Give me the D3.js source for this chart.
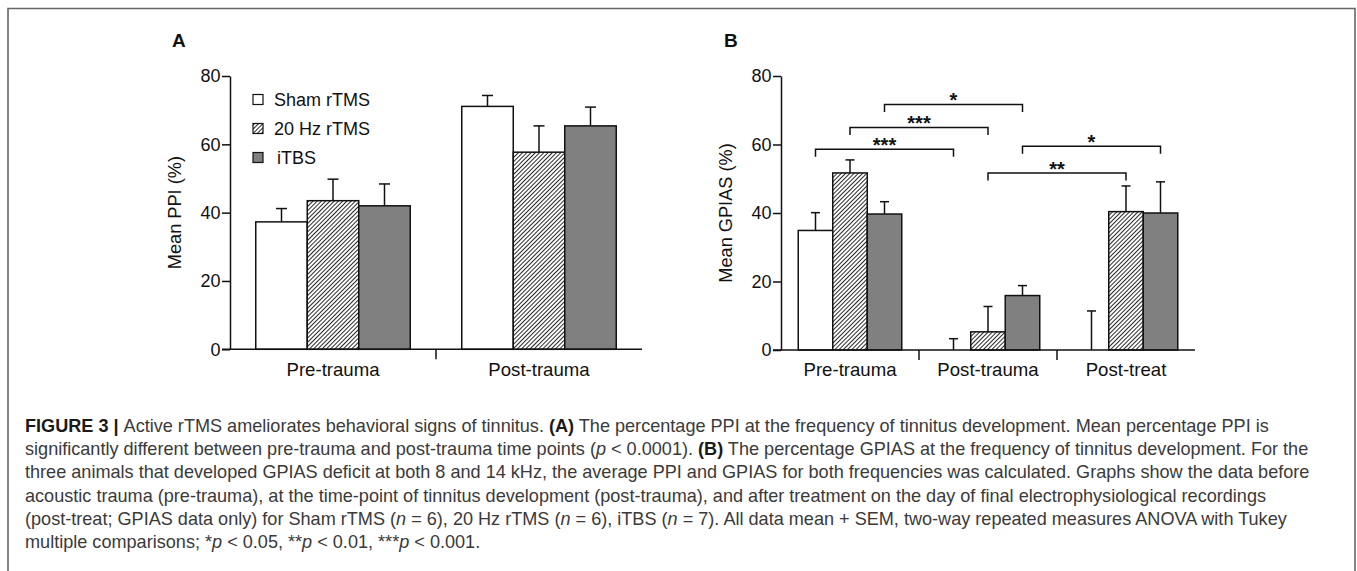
<!DOCTYPE html>
<html>
<head>
<meta charset="utf-8">
<script src="https://cdn.jsdelivr.net/npm/d3@7"></script>
<style>
  body { margin: 0; background: #fff; }
  svg { display: block; font-family: 'Liberation Sans', Arial, sans-serif; }
</style>
</head>
<body>
<script>
// groups and time points
const GROUPS = ['Sham rTMS', '20 Hz rTMS', 'iTBS'];
const PPI_TIMES = ['Pre-trauma', 'Post-trauma'];
const GPIAS_TIMES = ['Pre-trauma', 'Post-trauma', 'Post-treat'];

// mean and SEM (%), one row per time point, one column per group
const PPI_MEAN = [[37.3, 43.5, 42.0], [71.1, 57.7, 65.4]];
const PPI_SEM = [[3.9, 6.3, 6.4], [3.2, 7.7, 5.5]];
const GPIAS_MEAN = [[34.9, 51.7, 39.7], [0, 5.3, 15.9], [0, 40.4, 40.0]];
const GPIAS_SEM = [[5.2, 3.8, 3.6], [3.3, 7.4, 2.9], [11.4, 7.5, 9.1]];

const Y_TICKS = [0, 20, 40, 60, 80];

// Tukey comparisons in B: [time, group] vs [time, group], bracket level (%), stars
const GPIAS_COMPARISONS = [
  [[0, 2], [1, 2], 71.7, '*'],
  [[0, 1], [1, 1], 65.0, '***'],
  [[0, 0], [1, 0], 58.6, '***'],
  [[1, 1], [2, 1], 51.7, '**'],
  [[1, 2], [2, 2], 59.5, '*']
];

const CAPTION = [
  [['FIGURE 3 | ', 'b'], ['Active rTMS ameliorates behavioral signs of tinnitus. '], ['(A)', 'b'], [' The percentage PPI at the frequency of tinnitus development. Mean percentage PPI is']],
  [['significantly different between pre-trauma and post-trauma time points ('], ['p', 'i'], [' < 0.0001). '], ['(B)', 'b'], [' The percentage GPIAS at the frequency of tinnitus development. For the']],
  [['three animals that developed GPIAS deficit at both 8 and 14 kHz, the average PPI and GPIAS for both frequencies was calculated. Graphs show the data before']],
  [['acoustic trauma (pre-trauma), at the time-point of tinnitus development (post-trauma), and after treatment on the day of final electrophysiological recordings']],
  [['(post-treat; GPIAS data only) for Sham rTMS ('], ['n', 'i'], [' = 6), 20 Hz rTMS ('], ['n', 'i'], [' = 6), iTBS ('], ['n', 'i'], [' = 7). All data mean + SEM, two-way repeated measures ANOVA with Tukey']],
  [['multiple comparisons; *'], ['p', 'i'], [' < 0.05, **'], ['p', 'i'], [' < 0.01, ***'], ['p', 'i'], [' < 0.001.']]
];

const WIDTH = 1357, HEIGHT = 571;
const FILLS = ['#ffffff', 'url(#hatch)', '#808080'];

const SVG = d3.select('body').append('svg')
  .attr('width', WIDTH)
  .attr('height', HEIGHT);

const defs = SVG.append('defs');
defs.append('pattern')
    .attr('id', 'hatch')
    .attr('patternUnits', 'userSpaceOnUse')
    .attr('width', 3)
    .attr('height', 3)
    .attr('patternTransform', 'rotate(45)')
  .call(p => p.append('rect').attr('width', 3).attr('height', 3).attr('fill', '#fff'))
  .append('line')
    .attr('x1', 0.5).attr('y1', 0).attr('x2', 0.5).attr('y2', 3)
    .attr('stroke', '#111')
    .attr('stroke-width', 0.9);

// frame round the figure (bottom edge is cut off)
SVG.append('path')
  .attr('d', `M8,${HEIGHT} V8.5 H1355 V${HEIGHT}`)
  .attr('fill', 'none')
  .attr('stroke', '#666')
  .attr('stroke-width', 1.6);

function drawPanel(cfg) {
  const g = SVG.append('g').attr('class', 'panel');

  const x = d3.scaleBand().domain(cfg.times).range([cfg.left, cfg.right]);
  const xi = d3.scaleBand().domain(GROUPS).range([0, x.bandwidth()]).paddingOuter(0.5);
  const y = d3.scaleLinear().domain([0, 80]).range([cfg.bottom, cfg.top]);
  const barX = (i, j) => x(cfg.times[i]) + xi(GROUPS[j]);
  const barMid = (i, j) => barX(i, j) + xi.bandwidth() / 2;

  const rows = cfg.times.flatMap((t, i) => GROUPS.map((grp, j) => ({
    i, j, v: cfg.mean[i][j], s: cfg.sem[i][j]
  })));

  // error bars (mean + SEM)
  const err = g.append('g').attr('stroke', '#111').attr('stroke-width', 1.5);
  err.selectAll('line.stem').data(rows).join('line')
    .attr('class', 'stem')
    .attr('x1', d => barMid(d.i, d.j)).attr('x2', d => barMid(d.i, d.j))
    .attr('y1', d => y(d.v)).attr('y2', d => y(d.v + d.s));
  err.selectAll('line.cap').data(rows).join('line')
    .attr('class', 'cap')
    .attr('x1', d => barMid(d.i, d.j) - cfg.cap / 2).attr('x2', d => barMid(d.i, d.j) + cfg.cap / 2)
    .attr('y1', d => y(d.v + d.s)).attr('y2', d => y(d.v + d.s));

  // bars
  g.append('g').selectAll('rect').data(rows.filter(d => d.v > 0)).join('rect')
    .attr('x', d => barX(d.i, d.j))
    .attr('y', d => y(d.v))
    .attr('width', xi.bandwidth())
    .attr('height', d => y(0) - y(d.v))
    .attr('fill', d => FILLS[d.j])
    .attr('stroke', '#111')
    .attr('stroke-width', 1.5);

  // y axis
  const yAxis = g.append('g')
    .attr('transform', `translate(${cfg.left},0)`)
    .call(d3.axisLeft(y).tickValues(Y_TICKS).tickSize(8).tickSizeOuter(0).tickPadding(1.5));
  yAxis.selectAll('path, line').attr('stroke', '#111').attr('stroke-width', 1.5);
  yAxis.selectAll('text').attr('font-size', 18).attr('fill', '#111').attr('font-family', 'Liberation Sans, Arial, sans-serif');

  // x axis: baseline, category labels, separator ticks
  const xAxis = g.append('g')
    .attr('transform', `translate(0,${y(0)})`)
    .call(d3.axisBottom(x).tickSize(0).tickPadding(13));
  xAxis.select('.domain').remove();
  xAxis.selectAll('text').attr('font-size', 18.6).attr('fill', '#111').attr('font-family', 'Liberation Sans, Arial, sans-serif');
  xAxis.append('line')
    .attr('x1', cfg.left - 8).attr('x2', cfg.right)
    .attr('stroke', '#111').attr('stroke-width', 1.5);
  xAxis.selectAll('line.sep').data(cfg.times.slice(1)).join('line')
    .attr('class', 'sep')
    .attr('x1', d => x(d)).attr('x2', d => x(d))
    .attr('y1', 0).attr('y2', 10)
    .attr('stroke', '#111').attr('stroke-width', 1.5);

  // y label
  g.append('text')
    .attr('transform', `translate(${cfg.left - 55},${(y(0) + y(80)) / 2}) rotate(-90)`)
    .attr('text-anchor', 'middle')
    .attr('dominant-baseline', 'central')
    .attr('font-size', 18.2)
    .attr('fill', '#111')
    .text(cfg.ylabel);

  // panel letter
  g.append('text')
    .attr('x', cfg.letterX).attr('y', 47)
    .attr('font-size', 19)
    .attr('font-weight', 'bold')
    .attr('fill', '#111')
    .text(cfg.letter);

  return { g, x, y, barMid };
}

const A = drawPanel({
  letter: 'A', letterX: 172,
  times: PPI_TIMES, mean: PPI_MEAN, sem: PPI_SEM,
  left: 230, right: 642, top: 76, bottom: 349.3, cap: 11,
  ylabel: 'Mean PPI (%)'
});

const B = drawPanel({
  letter: 'B', letterX: 724,
  times: GPIAS_TIMES, mean: GPIAS_MEAN, sem: GPIAS_SEM,
  left: 781, right: 1195, top: 76, bottom: 350, cap: 9,
  ylabel: 'Mean GPIAS (%)'
});

// legend in panel A
const legend = A.g.append('g').selectAll('g').data(GROUPS).join('g')
  .attr('transform', (d, k) => `translate(253,${99.5 + k * 29})`);
legend.append('rect')
  .attr('x', 0).attr('y', -5).attr('width', 10).attr('height', 10)
  .attr('fill', (d, k) => FILLS[k])
  .attr('stroke', '#111').attr('stroke-width', 1.2);
legend.append('text')
  .attr('x', (d, k) => k === 2 ? 24 : 21)
  .attr('y', 0)
  .attr('dominant-baseline', 'central')
  .attr('font-size', 18)
  .attr('fill', '#111')
  .text(d => d);

// significance brackets in panel B
const br = B.g.append('g').selectAll('g').data(GPIAS_COMPARISONS).join('g');
br.append('path')
  .attr('d', d => {
    const x1 = B.barMid(d[0][0], d[0][1]);
    const x2 = B.barMid(d[1][0], d[1][1]);
    const yy = B.y(d[2]);
    return `M${x1},${yy + 7.5} V${yy} H${x2} V${yy + 7.5}`;
  })
  .attr('fill', 'none')
  .attr('stroke', '#111')
  .attr('stroke-width', 1.5);
br.append('text')
  .attr('x', d => (B.barMid(d[0][0], d[0][1]) + B.barMid(d[1][0], d[1][1])) / 2)
  .attr('y', d => B.y(d[2]) + 3)
  .attr('text-anchor', 'middle')
  .attr('font-size', 20)
  .attr('font-weight', 'bold')
  .attr('fill', '#111')
  .text(d => d[3]);

// caption
const cap = SVG.append('g')
  .attr('font-size', 18.1)
  .attr('fill', '#3a3a3a')
  .style('white-space', 'pre');
CAPTION.forEach((line, k) => {
  const t = cap.append('text').attr('x', 25).attr('y', 431.7 + k * 23.3);
  line.forEach(([txt, st]) => {
    t.append('tspan')
      .attr('font-weight', st === 'b' ? 'bold' : null)
      .attr('fill', st === 'b' ? '#1a1a1a' : null)
      .attr('font-style', st === 'i' ? 'italic' : null)
      .text(txt);
  });
});
</script>
</body>
</html>
